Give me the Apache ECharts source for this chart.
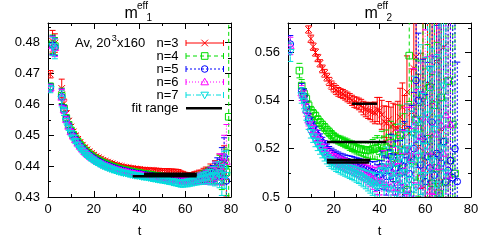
<!DOCTYPE html>
<html><head><meta charset="utf-8">
<script src="https://cdn.jsdelivr.net/npm/echarts@6/dist/echarts.min.js"></script>
<style>html,body{margin:0;padding:0;background:#fff}#c{width:479px;height:240px}</style>
</head><body><div id="c"></div><script>
// ---------- DATA (array index = t) ----------
const xTicks = [0, 20, 40, 60, 80];
const leftYTicks = [0.43, 0.44, 0.45, 0.46, 0.47, 0.48];
const rightYTicks = [0.5, 0.52, 0.54, 0.56];
const seriesNames = ['n=3', 'n=4', 'n=5', 'n=6', 'n=7'];

// Left panel: m_eff_1
const leftN3 = [
 null,.4698,.4805,.4799,null,null,.4652,.4603,.4570,.4546,
 .4527,.4511,.4498,.4487,.4477,.4468,.4460,.4453,.4447,.4441,
 .4436,.4431,.4427,.4423,.4419,.4416,.4413,.4410,.4408,.4405,
 .4403,.4401,.4399,.4397,.4396,.4395,.4393,.4392,.4391,.4390,
 .4389,.4388,.4387,.4387,.4386,.4385,.4385,.4384,.4384,.4383,
 .4383,.4382,.4382,.4381,.4381,.4380,.4379,.4378,.4374,.4371,
 .4368,.4366,.4365,.4366,.4368,.4370,.4372,.4371,.4376,.4379,
 .4377,.4386,.4375,.4392,.4370,.4405,.4380,.4418,.4360,null];
const leftN3Err = [
 null,.0012,.0035,.0030,null,null,.0030,.0014,.0010,.0009,
 .0008,.0008,.0008,.0007,.0007,.0007,.0007,.0007,.0007,.0007,
 .0007,.0007,.0007,.0007,.0007,.0007,.0007,.0007,.0007,.0007,
 .0007,.0007,.0007,.0007,.0007,.0007,.0007,.0008,.0008,.0008,
 .0008,.0008,.0008,.0008,.0008,.0008,.0009,.0009,.0009,.0009,
 .0009,.0009,.0010,.0010,.0010,.0010,.0011,.0011,.0011,.0012,
 .0012,.0012,.0013,.0013,.0014,.0014,.0015,.0016,.0017,.0018,
 .0019,.0021,.0023,.0026,.0030,.0034,.0040,.0048,.0060,null];
const leftN4 = [
 null,.4658,.4795,.4789,null,null,.4628,.4587,.4556,.4534,
 .4516,.4502,.4490,.4479,.4469,.4460,.4452,.4445,.4439,.4433,
 .4428,.4423,.4419,.4415,.4411,.4408,.4405,.4402,.4399,.4397,
 .4394,.4392,.4390,.4388,.4387,.4385,.4383,.4382,.4380,.4379,
 .4378,.4376,.4375,.4374,.4373,.4372,.4370,.4369,.4368,.4367,
 .4366,.4365,.4364,.4363,.4362,.4361,.4360,.4359,.4358,.4357,
 .4357,.4356,.4357,.4358,.4360,.4361,.4363,.4364,.4367,.4369,
 .4372,.4376,.4371,.4386,.4378,.4395,.4372,.4402,.4380,.4560];
const leftN4Err = [
 null,.0011,.0030,.0028,null,null,.0025,.0012,.0009,.0008,
 .0008,.0007,.0007,.0007,.0007,.0007,.0007,.0007,.0007,.0007,
 .0007,.0007,.0007,.0007,.0007,.0007,.0007,.0007,.0007,.0007,
 .0007,.0007,.0007,.0007,.0007,.0007,.0007,.0007,.0008,.0008,
 .0008,.0008,.0008,.0008,.0008,.0008,.0008,.0009,.0009,.0009,
 .0009,.0009,.0009,.0010,.0010,.0010,.0010,.0011,.0011,.0011,
 .0012,.0012,.0013,.0014,.0014,.0015,.0016,.0017,.0018,.0020,
 .0022,.0024,.0027,.0030,.0035,.0040,.0048,.0058,.0075,.0600];
const leftN5 = [
 null,.4655,.4792,.4786,null,null,.4625,.4584,.4553,.4531,
 .4513,.4499,.4487,.4476,.4466,.4457,.4449,.4442,.4436,.4430,
 .4425,.4420,.4416,.4412,.4408,.4405,.4402,.4399,.4396,.4394,
 .4391,.4389,.4387,.4385,.4384,.4382,.4380,.4379,.4377,.4376,
 .4375,.4373,.4372,.4371,.4370,.4369,.4367,.4366,.4365,.4364,
 .4363,.4362,.4361,.4360,.4359,.4358,.4357,.4356,.4355,.4354,
 .4354,.4353,.4354,.4355,.4357,.4358,.4360,.4361,.4363,.4365,
 .4368,.4371,.4375,.4380,.4392,.4382,.4410,.4430,.4352,null];
const leftN5Err = [
 null,.0011,.0030,.0028,null,null,.0025,.0012,.0009,.0008,
 .0008,.0007,.0007,.0007,.0007,.0007,.0007,.0007,.0007,.0007,
 .0007,.0007,.0007,.0007,.0007,.0007,.0007,.0007,.0007,.0007,
 .0007,.0007,.0007,.0007,.0007,.0007,.0007,.0007,.0008,.0008,
 .0008,.0008,.0008,.0008,.0008,.0008,.0008,.0009,.0009,.0009,
 .0009,.0009,.0009,.0010,.0010,.0010,.0010,.0011,.0011,.0011,
 .0012,.0012,.0013,.0014,.0014,.0015,.0016,.0017,.0018,.0020,
 .0022,.0024,.0027,.0030,.0035,.0040,.0050,.0062,.0080,null];
const leftN6 = [
 null,.4653,.4790,.4784,null,null,.4623,.4582,.4551,.4529,
 .4511,.4497,.4485,.4474,.4464,.4455,.4447,.4440,.4434,.4428,
 .4423,.4418,.4414,.4410,.4406,.4403,.4400,.4397,.4394,.4392,
 .4389,.4387,.4385,.4383,.4382,.4380,.4378,.4377,.4375,.4374,
 .4373,.4371,.4370,.4369,.4368,.4367,.4365,.4364,.4363,.4362,
 .4361,.4360,.4359,.4358,.4357,.4356,.4355,.4354,.4353,.4352,
 .4352,.4352,.4353,.4355,.4356,.4358,.4360,.4362,.4360,.4366,
 .4364,.4372,.4368,.4384,.4376,.4398,.4388,.4430,.4415,null];
const leftN6Err = [
 null,.0012,.0030,.0029,null,null,.0026,.0012,.0009,.0008,
 .0008,.0007,.0007,.0007,.0007,.0007,.0007,.0007,.0007,.0007,
 .0007,.0007,.0007,.0007,.0007,.0007,.0007,.0007,.0007,.0007,
 .0007,.0007,.0007,.0007,.0007,.0007,.0007,.0008,.0008,.0008,
 .0008,.0008,.0008,.0008,.0008,.0008,.0009,.0009,.0009,.0009,
 .0009,.0010,.0010,.0010,.0010,.0011,.0011,.0011,.0012,.0012,
 .0012,.0013,.0013,.0014,.0015,.0016,.0017,.0018,.0019,.0021,
 .0023,.0025,.0028,.0032,.0036,.0042,.0050,.0070,.0120,null];
const leftN7 = [
 null,.4650,.4788,.4780,null,null,.4618,.4577,.4546,.4524,
 .4506,.4492,.4480,.4469,.4459,.4450,.4442,.4435,.4429,.4423,
 .4418,.4413,.4409,.4405,.4401,.4398,.4395,.4392,.4389,.4387,
 .4384,.4382,.4380,.4378,.4377,.4375,.4373,.4372,.4370,.4369,
 .4368,.4366,.4365,.4364,.4363,.4361,.4360,.4359,.4357,.4356,
 .4355,.4354,.4353,.4351,.4350,.4348,.4347,.4345,.4344,.4344,
 .4345,.4346,.4348,.4350,.4353,.4355,.4357,.4359,.4361,.4363,
 .4366,.4364,.4370,.4368,.4378,.4372,.4355,.4388,.4370,null];
const leftN7Err = [
 null,.0012,.0030,.0032,null,null,.0026,.0013,.0009,.0008,
 .0008,.0007,.0007,.0007,.0007,.0007,.0007,.0007,.0007,.0007,
 .0007,.0007,.0007,.0007,.0007,.0007,.0007,.0007,.0007,.0007,
 .0007,.0007,.0007,.0007,.0007,.0007,.0007,.0008,.0008,.0008,
 .0008,.0008,.0008,.0008,.0008,.0008,.0009,.0009,.0009,.0009,
 .0009,.0010,.0010,.0010,.0010,.0011,.0011,.0011,.0012,.0012,
 .0012,.0013,.0013,.0014,.0015,.0016,.0017,.0018,.0019,.0020,
 .0022,.0025,.0028,.0032,.0036,.0042,.0050,.0060,.0080,null];

// Right panel: m_eff_2
const rightN3 = [
 null,null,null,null,null,null,null,null,null,.5693,
 .5655,.5622,.5598,.5575,.5553,.5530,.5512,.5496,.5478,.5463,
 .5452,.5443,.5435,.5430,.5426,.5420,.5414,.5408,.5400,.5393,
 .5390,.5385,.5378,.5368,.5362,.5358,.5356,.5351,.5348,.5362,
 .5357,.5340,.5312,.5305,.5320,.5292,.5298,.5282,.5286,.5330,
 .5372,.5300,.5434,.5265,.5350,.5532,.5580,.5208,.5315,.5390,
 .5145,.5470,.5250,.5393,.5180,.5560,.5050,.5280,.5620,null,
 null,null,null,null,null,null,null,null,null,null];
const rightN3Err = [
 null,null,null,null,null,null,null,null,null,.0015,
 .0015,.0015,.0015,.0015,.0015,.0016,.0016,.0016,.0017,.0017,
 .0017,.0018,.0018,.0018,.0019,.0019,.0020,.0020,.0021,.0022,
 .0023,.0024,.0026,.0028,.0030,.0033,.0036,.0040,.0045,.0050,
 .0055,.0060,.0065,.0070,.0075,.0080,.0090,.0100,.0110,.0120,
 .0100,.0120,.0150,.0120,.0180,.0200,.0250,.0300,.0280,.0350,
 .0430,.0470,.0500,.0550,.0600,.0650,.0700,.0750,.0800,null,
 null,null,null,null,null,null,null,null,null,null];
const rightN4 = [
 null,null,null,null,null,.5523,.5461,.5427,.5406,.5379,
 .5358,.5345,.5335,.5320,.5308,.5298,.5288,.5277,.5268,.5258,
 .5249,.5242,.5237,.5233,.5229,.5224,.5220,.5214,.5210,.5206,
 .5202,.5199,.5198,.5196,.5194,.5195,.5192,.5198,.5200,.5204,
 .5190,.5212,.5186,.5205,.5178,.5225,.5160,.5196,.5140,.5255,
 .5105,.5190,.5030,.5585,.5270,.5150,.5320,.5283,.5080,.5420,
 .5170,.5241,.5454,.5056,.5380,.5120,.5015,.5412,.5230,.5060,
 .5480,.5150,.5300,.5097,null,null,null,null,null,null];
const rightN4Err = [
 null,null,null,null,null,.0030,.0025,.0022,.0020,.0018,
 .0017,.0017,.0016,.0016,.0016,.0016,.0016,.0016,.0017,.0017,
 .0017,.0018,.0018,.0019,.0019,.0020,.0020,.0021,.0022,.0023,
 .0024,.0025,.0027,.0029,.0031,.0034,.0037,.0040,.0045,.0050,
 .0055,.0060,.0066,.0072,.0080,.0088,.0096,.0105,.0115,.0125,
 .0140,.0155,.0170,.0190,.0210,.0230,.0250,.0280,.0300,.0330,
 .0360,.0390,.0420,.0450,.0480,.0520,.0560,.0600,.0640,.0680,
 .0720,.0760,.0800,.0850,null,null,null,null,null,null];
const rightN5 = [
 null,.5633,null,null,null,null,.5440,.5418,.5372,.5324,
 .5305,.5290,.5269,.5255,.5240,.5226,.5212,.5198,.5188,.5180,
 .5173,.5168,.5163,.5158,.5154,.5150,.5147,.5144,.5141,.5137,
 .5133,.5130,.5126,.5122,.5118,.5112,.5106,.5102,.5098,.5080,
 .5092,.5126,.5100,.5085,.5110,.5167,.5075,.5120,.5050,.5099,
 .5130,.5150,.5008,.5097,.5166,.5200,.5482,.5400,.5132,.5240,
 .5064,.5167,.5120,.5310,.5090,.5180,.5173,.5140,.5229,.5064,
 .5110,.5150,.5080,.5200,.5064,null,null,null,null,null];
const rightN5Err = [
 null,.0035,null,null,null,null,.0030,.0028,.0025,.0022,
 .0022,.0021,.0021,.0021,.0021,.0021,.0021,.0021,.0021,.0022,
 .0022,.0022,.0023,.0023,.0024,.0024,.0025,.0026,.0027,.0028,
 .0029,.0030,.0031,.0033,.0035,.0037,.0040,.0044,.0048,.0053,
 .0058,.0064,.0070,.0077,.0085,.0093,.0102,.0112,.0123,.0135,
 .0148,.0162,.0178,.0195,.0213,.0233,.0255,.0278,.0303,.0330,
 .0360,.0390,.0420,.0455,.0490,.0530,.0570,.0610,.0650,.0700,
 .0750,.0800,.0850,.0900,.0494,null,null,null,null,null];
const rightN6 = [
 null,.5625,null,null,null,null,.5430,.5410,.5360,.5318,
 .5290,.5273,.5254,.5239,.5223,.5209,.5195,.5182,.5172,.5164,
 .5157,.5151,.5146,.5141,.5137,.5133,.5129,.5126,.5123,.5119,
 .5115,.5110,.5106,.5102,.5096,.5090,.5085,.5078,.5072,.5065,
 .5068,.5062,.5120,.5050,.5140,.5040,.5100,.5020,.5150,.5060,
 .5030,.5110,.5190,.5010,.5155,.5295,.5187,.5050,.5250,.5100,
 .5330,.5190,.5025,.5125,.5022,.5260,.5125,.5297,.5180,.5340,
 .5090,.5300,null,null,null,null,null,null,null,null];
const rightN6Err = [
 null,.0036,null,null,null,null,.0031,.0029,.0026,.0024,
 .0023,.0023,.0023,.0023,.0023,.0023,.0023,.0023,.0023,.0023,
 .0023,.0024,.0024,.0025,.0025,.0026,.0026,.0027,.0028,.0029,
 .0030,.0031,.0033,.0035,.0037,.0040,.0043,.0046,.0050,.0055,
 .0060,.0066,.0072,.0080,.0088,.0096,.0105,.0115,.0126,.0138,
 .0150,.0165,.0180,.0198,.0216,.0236,.0258,.0280,.0305,.0333,
 .0362,.0392,.0425,.0460,.0495,.0535,.0575,.0615,.0655,.0700,
 .0750,.0800,null,null,null,null,null,null,null,null];
const rightN7 = [
 null,.5599,null,null,null,null,.5420,.5395,.5345,.5305,
 .5268,.5250,.5232,.5216,.5201,.5186,.5173,.5161,.5151,.5143,
 .5137,.5131,.5126,.5121,.5117,.5113,.5109,.5105,.5101,.5097,
 .5092,.5088,.5083,.5078,.5072,.5066,.5060,.5054,.5048,.5041,
 .5055,.5110,.5040,.5125,.5030,.5090,.5145,.5010,.5080,.5160,
 .5045,.5100,.5200,.5070,.5135,.5260,.5040,.5170,.5320,.5090,
 .5210,.5340,.5530,.5150,.5280,.5050,.5324,.5200,.5460,.5100,
 null,null,null,null,null,null,null,null,null,null];
const rightN7Err = [
 null,.0038,null,null,null,null,.0032,.0030,.0027,.0025,
 .0024,.0024,.0024,.0024,.0024,.0024,.0024,.0024,.0024,.0024,
 .0024,.0025,.0025,.0026,.0026,.0027,.0027,.0028,.0029,.0030,
 .0031,.0032,.0034,.0036,.0038,.0041,.0044,.0047,.0051,.0056,
 .0062,.0068,.0075,.0082,.0090,.0099,.0108,.0118,.0130,.0142,
 .0155,.0170,.0185,.0202,.0220,.0240,.0262,.0285,.0310,.0338,
 .0368,.0398,.0430,.0465,.0500,.0540,.0580,.0620,.0660,.0700,
 null,null,null,null,null,null,null,null,null,null];

// Fit ranges: [tStart, tEnd, value]
const fitLeft = [[37, 65, 0.4367], [42, 65, 0.4372], [42, 65, 0.4375]];
const fitRight = [[28, 39, 0.5386], [17, 43, 0.5228], [17, 36, 0.5153], [17, 35.5, 0.5143]];

// ---------- STYLE ----------
const FONT = 'Liberation Sans, Arial, Helvetica, sans-serif';
const styles = [
  {color: '#ff0000', dash: null,         marker: 'cross'},
  {color: '#00dd00', dash: [4, 3],       marker: 'square'},
  {color: '#0000ff', dash: [2, 2],       marker: 'circle'},
  {color: '#ff00ff', dash: [1, 2],       marker: 'triangle'},
  {color: '#00dddd', dash: [5, 2, 1, 2], marker: 'itriangle'}
];

function markerShape(kind, cx, cy, color) {
  const s = {stroke: color, fill: null, lineWidth: 1};
  const r = 3.3;
  if (kind === 'cross') return {type: 'group', children: [
    {type: 'line', shape: {x1: cx - r, y1: cy - r, x2: cx + r, y2: cy + r}, style: s},
    {type: 'line', shape: {x1: cx - r, y1: cy + r, x2: cx + r, y2: cy - r}, style: s}]};
  if (kind === 'square') return {type: 'rect', shape: {x: cx - r, y: cy - r, width: 2 * r, height: 2 * r}, style: s};
  if (kind === 'circle') return {type: 'circle', shape: {cx, cy, r: r}, style: s};
  if (kind === 'triangle') return {type: 'polygon', shape: {points: [[cx, cy - r - 0.5], [cx + r + 0.5, cy + r - 0.5], [cx - r - 0.5, cy + r - 0.5]]}, style: s};
  return {type: 'polygon', shape: {points: [[cx, cy + r + 0.5], [cx + r + 0.5, cy - r + 0.5], [cx - r - 0.5, cy - r + 0.5]]}, style: s};
}

function errSeries(vals, errs, st, axisIdx, z) {
  const data = [];
  vals.forEach((v, t) => { if (v != null) data.push([t, v, errs[t]]); });
  return {
    type: 'custom', xAxisIndex: axisIdx, yAxisIndex: axisIdx, clip: true, z: z,
    silent: true, animation: false, data,
    renderItem: (params, api) => {
      const t = api.value(0), v = api.value(1), e = api.value(2);
      const c = api.coord([t, v]);
      const lo = api.coord([t, v - e]), hi = api.coord([t, v + e]);
      const ls = {stroke: st.color, lineWidth: 1, lineDash: st.dash, fill: null};
      const cw = 3;
      return {type: 'group', children: [
        {type: 'line', shape: {x1: c[0], y1: lo[1], x2: c[0], y2: hi[1]}, style: ls},
        {type: 'line', shape: {x1: c[0] - cw, y1: lo[1], x2: c[0] + cw, y2: lo[1]}, style: {stroke: st.color, lineWidth: 1}},
        {type: 'line', shape: {x1: c[0] - cw, y1: hi[1], x2: c[0] + cw, y2: hi[1]}, style: {stroke: st.color, lineWidth: 1}},
        markerShape(st.marker, c[0], c[1], st.color)
      ]};
    }
  };
}

function fitSeries(fits, axisIdx) {
  return {
    type: 'custom', xAxisIndex: axisIdx, yAxisIndex: axisIdx, clip: true, z: 20,
    silent: true, animation: false, data: fits,
    renderItem: (params, api) => {
      const a = api.coord([api.value(0), api.value(2)]);
      const b = api.coord([api.value(1), api.value(2)]);
      return {type: 'line', shape: {x1: a[0], y1: a[1], x2: b[0], y2: b[1]}, style: {stroke: '#000', lineWidth: 2.5}};
    }
  };
}

const fmt = v => String(parseFloat(v.toFixed(3)));
function xAx(grid, pos) {
  return {
    type: 'value', gridIndex: grid, position: pos, min: 0, max: 80, interval: 20,
    axisLine: {show: true, onZero: false, lineStyle: {color: '#000', width: 1}},
    axisTick: {show: true, inside: true, length: 6, lineStyle: {color: '#000'}},
    minorTick: {show: true, splitNumber: 2, length: 3, lineStyle: {color: '#000'}},
    splitLine: {show: false},
    axisLabel: {show: pos === 'bottom', color: '#000', fontSize: 13, fontFamily: FONT, margin: 6,
      formatter: v => xTicks.includes(v) ? String(v) : ''},
    name: pos === 'bottom' ? 't' : '', nameLocation: 'middle', nameGap: 28,
    nameTextStyle: {color: '#000', fontSize: 13, fontFamily: FONT}
  };
}
function yAx(grid, pos, min, max, interval, ticks) {
  return {
    type: 'value', gridIndex: grid, position: pos, min, max, interval,
    axisLine: {show: true, onZero: false, lineStyle: {color: '#000', width: 1}},
    axisTick: {show: true, inside: true, length: 6, lineStyle: {color: '#000'}},
    minorTick: {show: true, splitNumber: 2, length: 3, lineStyle: {color: '#000'}},
    splitLine: {show: false},
    axisLabel: {show: pos === 'left', color: '#000', fontSize: 13, fontFamily: FONT, margin: 8,
      showMaxLabel: false,
      formatter: v => ticks.some(t => Math.abs(t - v) < 1e-6) ? fmt(v) : ''}
  };
}

const leftSets = [[leftN3, leftN3Err], [leftN4, leftN4Err], [leftN5, leftN5Err], [leftN6, leftN6Err], [leftN7, leftN7Err]];
const rightSets = [[rightN3, rightN3Err], [rightN4, rightN4Err], [rightN5, rightN5Err], [rightN6, rightN6Err], [rightN7, rightN7Err]];

const series = [];
leftSets.forEach((d, i) => series.push(errSeries(d[0], d[1], styles[i], 0, 2 + i)));
rightSets.forEach((d, i) => series.push(errSeries(d[0], d[1], styles[i], 2, 2 + i)));
series.push(fitSeries(fitLeft, 0));
series.push(fitSeries(fitRight, 2));

// ---------- graphic: titles + legend ----------
const graphic = [];
function title(x, sub) {
  graphic.push({type: 'text', left: x, top: 6, style: {text: 'm', fontSize: 16, fontFamily: FONT, fill: '#000'}});
  graphic.push({type: 'text', left: x + 12.5, top: 1.5, style: {text: 'eff', fontSize: 10, fontFamily: FONT, fill: '#000'}});
  graphic.push({type: 'text', left: x + 22, top: 13.5, style: {text: sub, fontSize: 10, fontFamily: FONT, fill: '#000'}});
}
title(124.5, '1');
title(364.5, '2');

const rowY = [43, 56, 69, 82, 95, 108.3];
graphic.push({type: 'text', x: 75, y: 43, style: {text: 'Av, 20', fontSize: 13, fontFamily: FONT, fill: '#000', verticalAlign: 'middle'}});
graphic.push({type: 'text', x: 111.8, y: 38.3, style: {text: '3', fontSize: 9, fontFamily: FONT, fill: '#000', verticalAlign: 'middle'}});
graphic.push({type: 'text', x: 117, y: 43, style: {text: 'x160', fontSize: 13, fontFamily: FONT, fill: '#000', verticalAlign: 'middle'}});
seriesNames.forEach((n, i) => {
  const y = rowY[i], st = styles[i];
  graphic.push({type: 'text', x: 178.5, y, style: {text: n, fontSize: 13, fontFamily: FONT, fill: '#000', align: 'right', verticalAlign: 'middle'}});
  graphic.push({type: 'line', shape: {x1: 186, y1: y, x2: 223.5, y2: y}, style: {stroke: st.color, lineWidth: 1, lineDash: st.dash}});
  graphic.push({type: 'line', shape: {x1: 186, y1: y - 3, x2: 186, y2: y + 3}, style: {stroke: st.color, lineWidth: 1}});
  graphic.push({type: 'line', shape: {x1: 223.5, y1: y - 3, x2: 223.5, y2: y + 3}, style: {stroke: st.color, lineWidth: 1}});
  graphic.push(markerShape(st.marker, 204.7, y, st.color));
});
graphic.push({type: 'text', x: 178.5, y: rowY[5], style: {text: 'fit range', fontSize: 13, fontFamily: FONT, fill: '#000', align: 'right', verticalAlign: 'middle'}});
graphic.push({type: 'line', shape: {x1: 186, y1: rowY[5], x2: 222, y2: rowY[5]}, style: {stroke: '#000', lineWidth: 2.5}});

const chart = echarts.init(document.getElementById('c'), null, {renderer: 'canvas'});
chart.setOption({
  animation: false,
  backgroundColor: '#fff',
  grid: [
    {left: 48, top: 23, width: 183, height: 174, outerBoundsMode: 'none', containLabel: false},
    {left: 288, top: 23, width: 183, height: 174, outerBoundsMode: 'none', containLabel: false}
  ],
  xAxis: [xAx(0, 'bottom'), xAx(0, 'top'), xAx(1, 'bottom'), xAx(1, 'top')],
  yAxis: [
    yAx(0, 'left', 0.43, 0.4864, 0.01, leftYTicks), yAx(0, 'right', 0.43, 0.4864, 0.01, leftYTicks),
    yAx(1, 'left', 0.5, 0.572, 0.02, rightYTicks), yAx(1, 'right', 0.5, 0.572, 0.02, rightYTicks)
  ],
  series,
  graphic
});
</script></body></html>
